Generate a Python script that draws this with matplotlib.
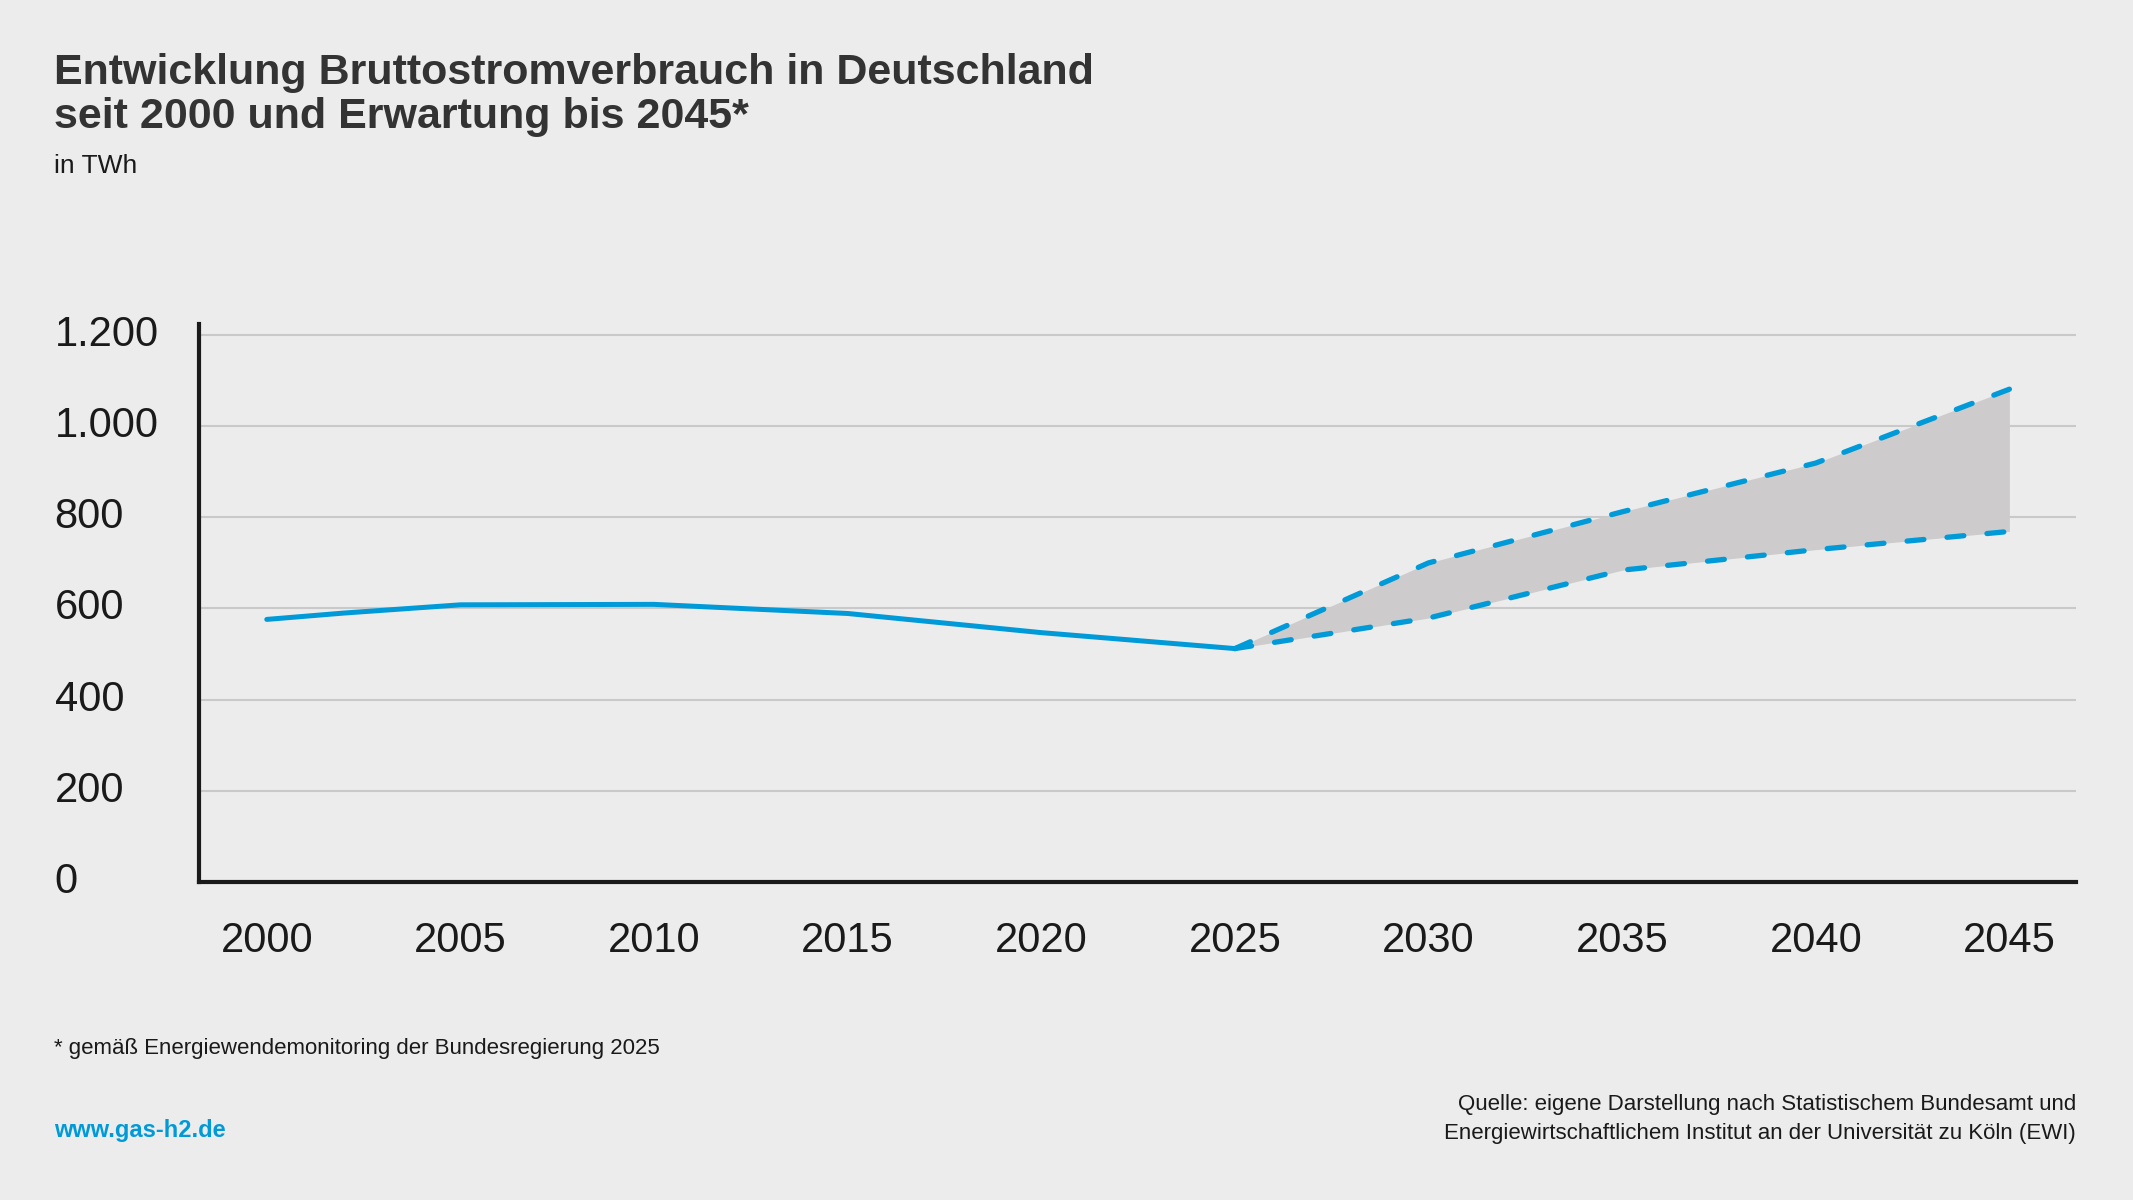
import matplotlib
matplotlib.use("Agg")
import matplotlib.pyplot as plt

# Bruttostromverbrauch in TWh
hist_years = [2000, 2002, 2005, 2010, 2015, 2020, 2025]
hist_twh = [576, 590, 608, 609, 589, 547, 512]

proj_years = [2025, 2030, 2035, 2040, 2045]
proj_high = [512, 700, 812, 919, 1081]
proj_low = [512, 579, 684, 729, 769]

x_ticks = [2000, 2005, 2010, 2015, 2020, 2025, 2030, 2035, 2040, 2045]
y_ticks = [0, 200, 400, 600, 800, 1000, 1200]
y_labels = ["0", "200", "400", "600", "800", "1.000", "1.200"]

BG = "#ececec"
BLUE = "#009ad8"
FILL = "#cdcbcb"
GRID = "#c9c9c9"
INK = "#1a1a1a"

plt.rcParams["font.family"] = ["Liberation Sans", "DejaVu Sans"]

W, H = 2133, 1200
fig = plt.figure(figsize=(W / 100, H / 100), dpi=100, facecolor=BG)
ax = fig.add_axes([199 / W, 318 / H, 1877 / W, 558 / H])
ax.set_facecolor(BG)

ax.set_xlim(1998.25, 2046.72)
ax.set_ylim(0, 1224)

for y in y_ticks[1:]:
    ax.axhline(y, color=GRID, lw=1.5, zorder=1)

ax.fill_between(proj_years, proj_low, proj_high, color=FILL, lw=0, zorder=2)
ax.plot(hist_years, hist_twh, color=BLUE, lw=3.6, solid_capstyle="round",
        solid_joinstyle="round", zorder=3)
for series in (proj_high, proj_low):
    ax.plot(proj_years, series, color=BLUE, lw=3.8, linestyle=(0, (3.2, 4.4)),
            dash_capstyle="round", zorder=3)

for side in ("top", "right"):
    ax.spines[side].set_visible(False)
ax.spines["left"].set_linewidth(3)
ax.spines["bottom"].set_linewidth(3)
ax.spines["left"].set_color(INK)
ax.spines["bottom"].set_color(INK)

ax.set_xticks(x_ticks)
ax.set_xticklabels([str(x) for x in x_ticks])
ax.set_yticks(y_ticks)
ax.set_yticklabels(y_labels)
ax.tick_params(axis="both", length=0, labelsize=30, labelcolor=INK)
ax.tick_params(axis="x", pad=28)
ax.tick_params(axis="y", pad=104)
for lab in ax.get_yticklabels():
    lab.set_horizontalalignment("left")
    lab.set_verticalalignment("center")

# Texte
fig.text(54 / W, 1 - 84 / H, "Entwicklung Bruttostromverbrauch in Deutschland",
         fontsize=31, fontweight="bold", color="#333333", va="baseline")
fig.text(54 / W, 1 - 128 / H, "seit 2000 und Erwartung bis 2045*",
         fontsize=31, fontweight="bold", color="#333333", va="baseline")
fig.text(54 / W, 1 - 173 / H, "in TWh", fontsize=19, color=INK, va="baseline")

fig.text(54 / W, 1 - 1054 / H, "* gemäß Energiewendemonitoring der Bundesregierung 2025",
         fontsize=16, color=INK, va="baseline")
fig.text(54 / W, 1 - 1137 / H, "www.gas-h2.de", fontsize=17, fontweight="bold",
         color=BLUE, va="baseline")
fig.text(2076 / W, 1 - 1110 / H,
         "Quelle: eigene Darstellung nach Statistischem Bundesamt und",
         fontsize=16, color=INK, va="baseline", ha="right")
fig.text(2076 / W, 1 - 1139 / H,
         "Energiewirtschaftlichem Institut an der Universität zu Köln (EWI)",
         fontsize=16, color=INK, va="baseline", ha="right")

fig.savefig("out.png", dpi=100, facecolor=BG)
